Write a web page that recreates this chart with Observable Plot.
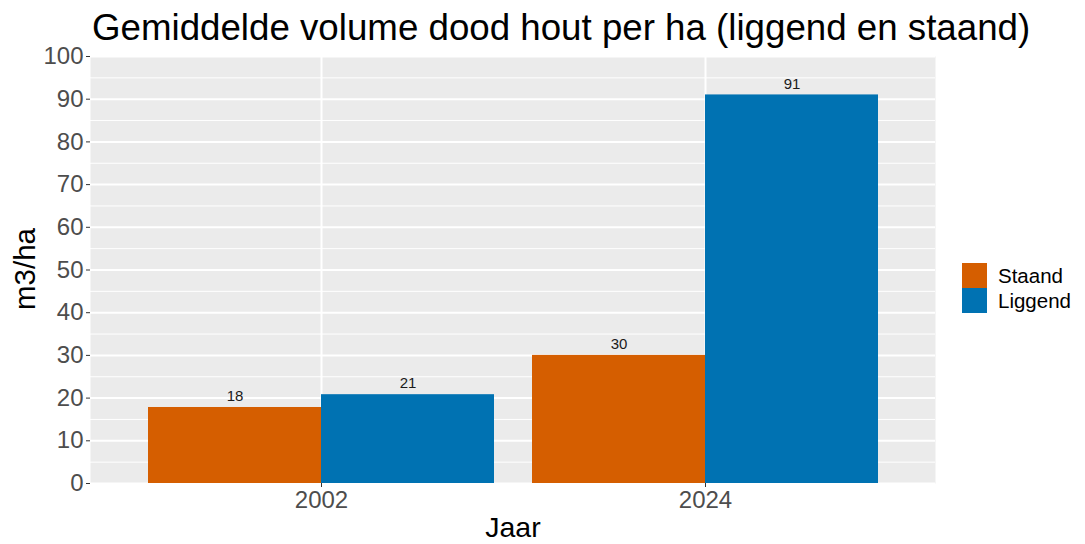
<!DOCTYPE html>
<html>
<head>
<meta charset="utf-8">
<script src="https://cdn.jsdelivr.net/npm/d3@7"></script>
<script src="https://cdn.jsdelivr.net/npm/@observablehq/plot@0.6"></script>
<style>
  body { margin: 0; background: #fff; font-family: "Liberation Sans", Arial, sans-serif; }
  #wrap { position: relative; width: 1085px; height: 544px; overflow: hidden; }
  #title { position: absolute; left: 92px; top: 10px; font-size: 36.7px; color: #000; white-space: nowrap; line-height: 1; }
  .layer { position: absolute; left: 0; top: 50px; }
  .layer svg { display: block; }
  #ylab { position: absolute; left: 25px; top: 269px; transform: translate(-50%, -50%) rotate(-90deg); font-size: 29.5px; color: #000; white-space: nowrap; line-height: 1; }
  #xlab { position: absolute; left: 513px; top: 527px; transform: translate(-50%, -50%); font-size: 28.5px; color: #000; line-height: 0.8; }
  #legend { position: absolute; left: 962px; top: 263px; }
  .item { display: flex; align-items: center; height: 25px; }
  .sw { width: 25px; height: 25px; margin-right: 11px; }
  .lt { font-size: 20.5px; color: #000; }
</style>
</head>
<body>
<div id="wrap">
  <div id="title">Gemiddelde volume dood hout per ha (liggend en staand)</div>
  <div id="under" class="layer"></div>
  <div id="over" class="layer"></div>
  <div id="ylab">m3/ha</div>
  <div id="xlab">Jaar</div>
  <div id="legend"></div>
</div>
<script>
const years = ["2002", "2024"];
const types = ["Staand", "Liggend"];
const staand = [17.8, 30.0];
const liggend = [20.8, 91.0];
const colors = ["#D55E00", "#0072B2"];
const yTicks = [0, 10, 20, 30, 40, 50, 60, 70, 80, 90, 100];
const yMinor = [5, 15, 25, 35, 45, 55, 65, 75, 85, 95];

const data = years.flatMap((y, i) => [
  {jaar: y, type: types[0], value: staand[i]},
  {jaar: y, type: types[1], value: liggend[i]}
]);

const common = {
  width: 1085,
  height: 494,
  marginTop: 6,
  marginBottom: 61,
  marginLeft: 90,
  marginRight: 150,
  style: {fontFamily: "Liberation Sans, Arial, sans-serif", background: "transparent", overflow: "visible"}
};

// Panel, grid and axes
const under = Plot.plot({
  ...common,
  x: {type: "band", domain: years, paddingInner: 0.1, paddingOuter: 0.15, axis: null},
  y: {domain: [0, 100], axis: null},
  marks: [
    Plot.frame({fill: "#EBEBEB", stroke: null}),
    Plot.ruleY(yMinor, {stroke: "#ffffff", strokeWidth: 1}),
    Plot.ruleY(yTicks, {stroke: "#ffffff", strokeWidth: 2}),
    Plot.gridX({stroke: "#ffffff", strokeWidth: 2, strokeOpacity: 1}),
    Plot.axisY({ticks: yTicks, tickSize: 4, tickPadding: 3, fontSize: 24, color: "#4D4D4D", stroke: "#333333", label: null}),
    Plot.axisX({tickSize: 4, tickPadding: 3, fontSize: 24, color: "#4D4D4D", stroke: "#333333", label: null})
  ]
});
document.getElementById("under").appendChild(under);

// Dodged bars and value labels
const over = Plot.plot({
  ...common,
  fx: {domain: years, paddingInner: 0.1, paddingOuter: 0.15, axis: null, label: null},
  x: {domain: types, padding: 0, axis: null},
  y: {domain: [0, 100], axis: null},
  color: {domain: types, range: colors},
  marks: [
    Plot.barY(data, {fx: "jaar", x: "type", y: "value", fill: "type"}),
    Plot.text(data, {fx: "jaar", x: "type", y: "value", text: d => Math.round(d.value), dy: -11, fontSize: 15, fill: "#1a1a1a"})
  ]
});
document.getElementById("over").appendChild(over);

const legend = document.getElementById("legend");
types.forEach((t, i) => {
  const item = document.createElement("div");
  item.className = "item";
  const sw = document.createElement("div");
  sw.className = "sw";
  sw.style.background = colors[i];
  const lt = document.createElement("span");
  lt.className = "lt";
  lt.textContent = t;
  item.appendChild(sw);
  item.appendChild(lt);
  legend.appendChild(item);
});
</script>
</body>
</html>
